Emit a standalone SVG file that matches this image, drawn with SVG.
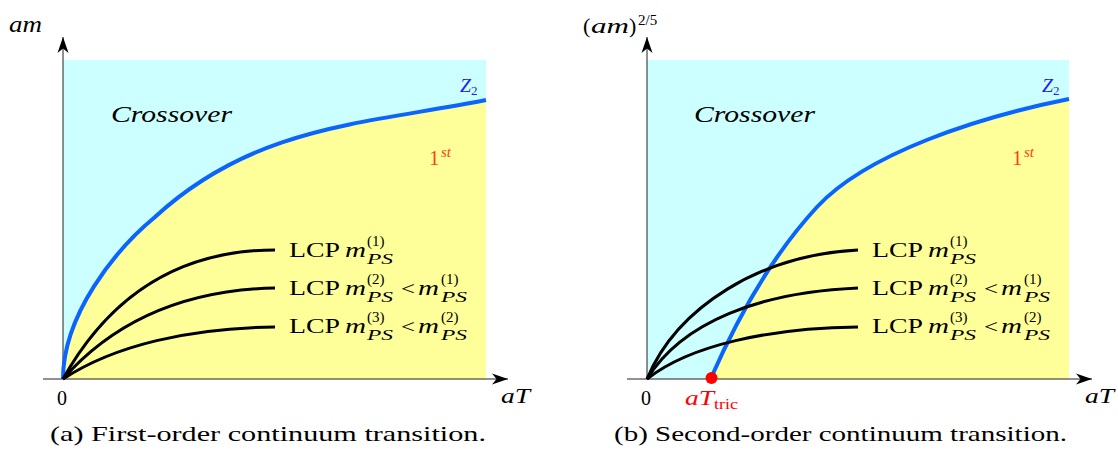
<svg xmlns="http://www.w3.org/2000/svg" width="1118" height="472" viewBox="0 0 1118 472">
<style>
text{font-family:"Liberation Serif","DejaVu Serif Condensed","DejaVu Serif","Times New Roman",serif}
.rm{fill:#000}
.it{font-style:italic;fill:#000}
.cyan{fill:#ccffff}
.yel{fill:#ffff99}
.axis{stroke:#222;stroke-width:1;fill:none}
.blue{stroke:#0a64ff;stroke-width:4;fill:none}
.blk{stroke:#000;stroke-width:3;fill:none}
.zt{fill:#2020ff}
.first{fill:#ff3c14}
.red{fill:#ff0000}
</style>
<defs>
<marker id="arr" viewBox="-17 -6 18 12" refX="0" refY="0" markerWidth="18" markerHeight="12" markerUnits="userSpaceOnUse" orient="auto">
<path d="M0,0 L-16,-5.5 L-11.5,0 L-16,5.5 Z" fill="#000"/>
</marker>
</defs>

<g id="panel-a-regions">
<rect class="cyan" x="63" y="60" width="423" height="319"/>
<path class="yel" d="M63,379 C63,315 115,250 155,217 C255,125 366,124 486,100 L486,379 Z"/>
</g>
<g id="panel-b-regions">
<rect class="cyan" x="647" y="60" width="422" height="319"/>
<path class="yel" d="M711,379 C751,287 792,234 817,207 C867,153 979,117 1069,99 L1069,379 Z"/>
</g>

<g id="connectors">
<path class="axis" d="M63,379 L63,37" marker-end="url(#arr)"/>
<path class="axis" d="M43,379 L508,379" marker-end="url(#arr)"/>
<path class="axis" d="M647,379 L647,37" marker-end="url(#arr)"/>
<path class="axis" d="M627,379 L1092,379" marker-end="url(#arr)"/>
<path class="blue" d="M63,379 C63,315 115,250 155,217 C255,125 366,124 486,100"/>
<path class="blk" d="M63,379 C110,295 180,250 275,250"/>
<path class="blk" d="M63,379 C115,320 185,290 275,288"/>
<path class="blk" d="M63,379 C115,345 190,328 275,327"/>
<path class="blue" d="M711,378 C751,287 792,234 817,207 C867,153 979,117 1069,99"/>
<path class="blk" d="M647,379 C677,307 760,255 858,250"/>
<path class="blk" d="M647,379 C682,322 760,292 858,288"/>
<path class="blk" d="M647,379 C690,345 770,328 858,327"/>
</g>

<g id="tricritical-point">
<circle cx="711.5" cy="378" r="6" fill="#ff0000"/>
<text class="it red" x="685" y="405" font-size="21" textLength="29" lengthAdjust="spacingAndGlyphs">aT</text>
<text class="rm red" x="714" y="409" font-size="15" textLength="24" lengthAdjust="spacingAndGlyphs">tric</text>
</g>

<g id="panel-a-labels">
<text class="it" x="9" y="32" font-size="23" textLength="33" lengthAdjust="spacingAndGlyphs">am</text>
<text class="it" x="111" y="122" font-size="24" textLength="121" lengthAdjust="spacingAndGlyphs">Crossover</text>
<text class="it zt" x="460" y="92" font-size="18" textLength="11" lengthAdjust="spacingAndGlyphs">Z</text>
<text class="rm zt" x="471" y="95" font-size="13">2</text>
<text class="rm first" x="429" y="165" font-size="21">1</text>
<text class="it first" x="441" y="157" font-size="15">st</text>
<text class="rm" x="57" y="405" font-size="20">0</text>
<text class="it" x="501" y="403" font-size="20" textLength="29" lengthAdjust="spacingAndGlyphs">aT</text>
<text class="rm" x="50" y="441" font-size="21" textLength="436" lengthAdjust="spacingAndGlyphs">(a) First-order continuum transition.</text>
</g>

<g id="panel-a-lcp1">
<text class="rm" x="289" y="257" font-size="21" textLength="51" lengthAdjust="spacingAndGlyphs">LCP</text>
<text class="it" x="345" y="257" font-size="22" textLength="21" lengthAdjust="spacingAndGlyphs">m</text>
<text class="rm" x="367" y="246" font-size="15">(1)</text>
<text class="it" x="367" y="264" font-size="15" textLength="26" lengthAdjust="spacingAndGlyphs">PS</text>
</g>
<g id="panel-a-lcp2">
<text class="rm" x="289" y="295" font-size="21" textLength="51" lengthAdjust="spacingAndGlyphs">LCP</text>
<text class="it" x="345" y="295" font-size="22" textLength="21" lengthAdjust="spacingAndGlyphs">m</text>
<text class="rm" x="367" y="284" font-size="15">(2)</text>
<text class="it" x="367" y="302" font-size="15" textLength="26" lengthAdjust="spacingAndGlyphs">PS</text>
<text class="rm" x="401" y="295" font-size="19" textLength="14" lengthAdjust="spacingAndGlyphs">&lt;</text>
<text class="it" x="418" y="295" font-size="22" textLength="21" lengthAdjust="spacingAndGlyphs">m</text>
<text class="rm" x="441" y="284" font-size="15">(1)</text>
<text class="it" x="441" y="302" font-size="15" textLength="26" lengthAdjust="spacingAndGlyphs">PS</text>
</g>
<g id="panel-a-lcp3">
<text class="rm" x="289" y="333" font-size="21" textLength="51" lengthAdjust="spacingAndGlyphs">LCP</text>
<text class="it" x="345" y="333" font-size="22" textLength="21" lengthAdjust="spacingAndGlyphs">m</text>
<text class="rm" x="367" y="322" font-size="15">(3)</text>
<text class="it" x="367" y="340" font-size="15" textLength="26" lengthAdjust="spacingAndGlyphs">PS</text>
<text class="rm" x="401" y="333" font-size="19" textLength="14" lengthAdjust="spacingAndGlyphs">&lt;</text>
<text class="it" x="418" y="333" font-size="22" textLength="21" lengthAdjust="spacingAndGlyphs">m</text>
<text class="rm" x="441" y="322" font-size="15">(2)</text>
<text class="it" x="441" y="340" font-size="15" textLength="26" lengthAdjust="spacingAndGlyphs">PS</text>
</g>

<g id="panel-b-labels">
<text class="rm" x="583" y="33" font-size="22">(</text>
<text class="it" x="591" y="33" font-size="22" textLength="38" lengthAdjust="spacingAndGlyphs">am</text>
<text class="rm" x="629" y="33" font-size="22">)</text>
<text class="rm" x="638" y="25" font-size="15">2/5</text>
<text class="it" x="694" y="122" font-size="24" textLength="121" lengthAdjust="spacingAndGlyphs">Crossover</text>
<text class="it zt" x="1042" y="92" font-size="18" textLength="11" lengthAdjust="spacingAndGlyphs">Z</text>
<text class="rm zt" x="1053" y="95" font-size="13">2</text>
<text class="rm first" x="1012" y="165" font-size="21">1</text>
<text class="it first" x="1024" y="157" font-size="15">st</text>
<text class="rm" x="641" y="405" font-size="20">0</text>
<text class="it" x="1085" y="403" font-size="20" textLength="29" lengthAdjust="spacingAndGlyphs">aT</text>
<text class="rm" x="614" y="441" font-size="21" textLength="453" lengthAdjust="spacingAndGlyphs">(b) Second-order continuum transition.</text>
</g>

<g id="panel-b-lcp1">
<text class="rm" x="872" y="257" font-size="21" textLength="51" lengthAdjust="spacingAndGlyphs">LCP</text>
<text class="it" x="928" y="257" font-size="22" textLength="21" lengthAdjust="spacingAndGlyphs">m</text>
<text class="rm" x="950" y="246" font-size="15">(1)</text>
<text class="it" x="950" y="264" font-size="15" textLength="26" lengthAdjust="spacingAndGlyphs">PS</text>
</g>
<g id="panel-b-lcp2">
<text class="rm" x="872" y="295" font-size="21" textLength="51" lengthAdjust="spacingAndGlyphs">LCP</text>
<text class="it" x="928" y="295" font-size="22" textLength="21" lengthAdjust="spacingAndGlyphs">m</text>
<text class="rm" x="950" y="284" font-size="15">(2)</text>
<text class="it" x="950" y="302" font-size="15" textLength="26" lengthAdjust="spacingAndGlyphs">PS</text>
<text class="rm" x="984" y="295" font-size="19" textLength="14" lengthAdjust="spacingAndGlyphs">&lt;</text>
<text class="it" x="1001" y="295" font-size="22" textLength="21" lengthAdjust="spacingAndGlyphs">m</text>
<text class="rm" x="1024" y="284" font-size="15">(1)</text>
<text class="it" x="1024" y="302" font-size="15" textLength="26" lengthAdjust="spacingAndGlyphs">PS</text>
</g>
<g id="panel-b-lcp3">
<text class="rm" x="872" y="333" font-size="21" textLength="51" lengthAdjust="spacingAndGlyphs">LCP</text>
<text class="it" x="928" y="333" font-size="22" textLength="21" lengthAdjust="spacingAndGlyphs">m</text>
<text class="rm" x="950" y="322" font-size="15">(3)</text>
<text class="it" x="950" y="340" font-size="15" textLength="26" lengthAdjust="spacingAndGlyphs">PS</text>
<text class="rm" x="984" y="333" font-size="19" textLength="14" lengthAdjust="spacingAndGlyphs">&lt;</text>
<text class="it" x="1001" y="333" font-size="22" textLength="21" lengthAdjust="spacingAndGlyphs">m</text>
<text class="rm" x="1024" y="322" font-size="15">(2)</text>
<text class="it" x="1024" y="340" font-size="15" textLength="26" lengthAdjust="spacingAndGlyphs">PS</text>
</g>
</svg>
